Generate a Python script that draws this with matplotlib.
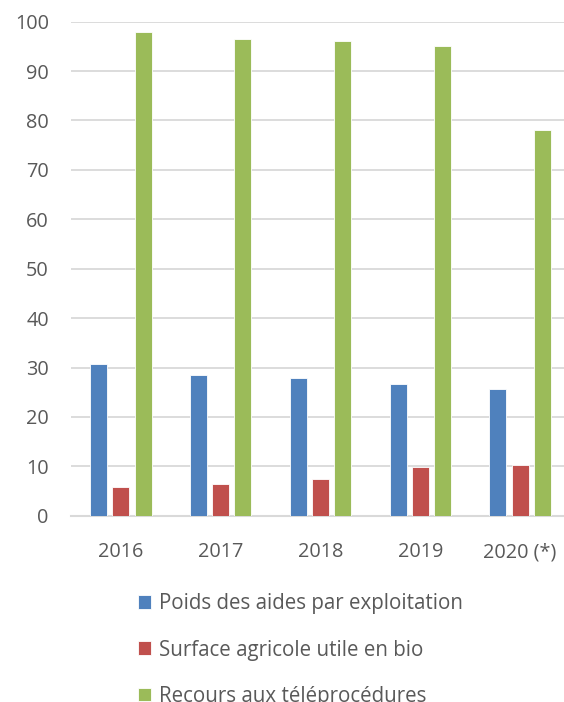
import matplotlib
matplotlib.use("Agg")
import matplotlib.pyplot as plt
import numpy as np

# Data
years = ["2016", "2017", "2018", "2019", "2020 (*)"]
poids_aides = [30.8, 28.5, 27.8, 26.6, 25.6]
surface_bio = [5.8, 6.5, 7.5, 9.9, 10.3]
teleprocedures = [98.0, 96.4, 96.0, 95.0, 78.0]

labels = ["Poids des aides par exploitation",
          "Surface agricole utile en bio",
          "Recours aux téléprocédures"]
colors = ["#4f81bd", "#c0504d", "#9bbb59"]

plt.rcParams['font.family'] = ['Open Sans', 'DejaVu Sans']
txt_color = "#595959"

W, H = 564, 702
fig = plt.figure(figsize=(W / 100, H / 100), dpi=100)
ax = fig.add_axes([71 / W, (H - 515.7) / H, (564 - 71) / W, (515.7 - 21.7) / H])

x = np.arange(len(years))
width = 0.17
offsets = [-0.222, 0.0, 0.222]
for vals, off, col, lab in zip([poids_aides, surface_bio, teleprocedures], offsets, colors, labels):
    ax.bar(x + off, vals, width, color=col, label=lab, edgecolor="white",
           linewidth=0.6, zorder=3)

ax.set_ylim(0, 100)
ax.set_xlim(-0.5, 4.44)
ax.set_yticks(np.arange(0, 101, 10))
ax.set_xticks(x)
ax.set_xticklabels(years)
ax.grid(axis="y", color="#d9d9d9", linewidth=1.3, zorder=0)
for s in ["top", "right", "left"]:
    ax.spines[s].set_visible(False)
ax.spines["bottom"].set_color("#d9d9d9")
ax.spines["bottom"].set_linewidth(1.5)
ax.tick_params(axis="both", length=0, labelsize=14.3, colors=txt_color)
ax.tick_params(axis="y", pad=16)
ax.tick_params(axis="x", pad=19)

fig.legend(loc="upper left", bbox_to_anchor=(119 / W, (H - 575) / H), ncol=1,
           frameon=False, fontsize=14.8, labelcolor=txt_color, handlelength=0.65,
           handleheight=0.65, handletextpad=0.4, labelspacing=1.22)

fig.savefig("out.png", dpi=100)
